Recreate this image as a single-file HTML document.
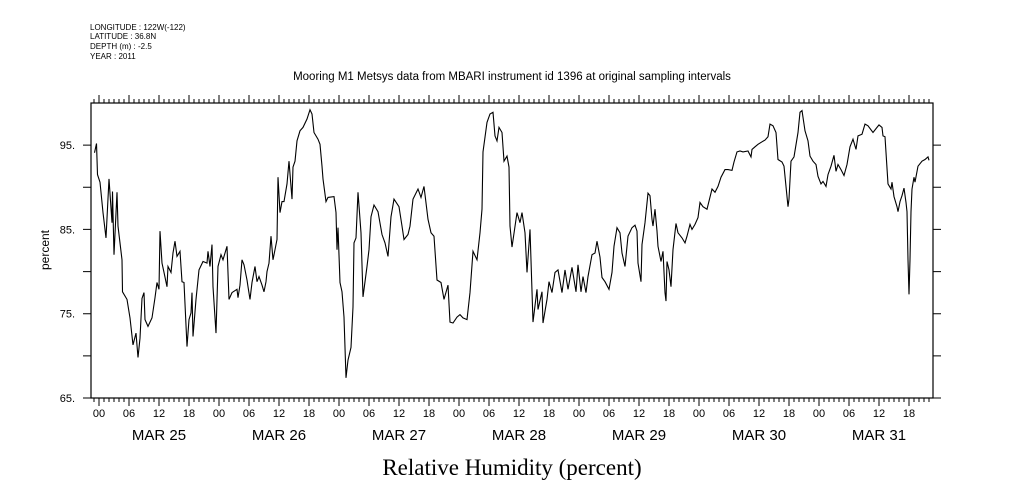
<!DOCTYPE html>
<html><head><meta charset="utf-8"><style>
body{margin:0;background:#fff;width:1009px;height:504px;overflow:hidden}
svg{display:block}
</style></head><body>
<svg id="chart" width="1009" height="504" xmlns="http://www.w3.org/2000/svg" font-family="Liberation Sans, sans-serif">
<rect width="1009" height="504" fill="#fff"/>
<g font-size="8" fill="#000">
<text x="90" y="30">LONGITUDE : 122W(-122)</text>
<text x="90" y="39">LATITUDE : 36.8N</text>
<text x="90" y="49">DEPTH (m) : -2.5</text>
<text x="90" y="59">YEAR : 2011</text>
</g>
<text x="512" y="80" text-anchor="middle" font-size="11.5">Mooring M1 Metsys data from MBARI instrument id 1396 at original sampling intervals</text>
<text x="512" y="475" text-anchor="middle" font-size="23" font-family="Liberation Serif, serif">Relative Humidity (percent)</text>
<text x="0" y="0" transform="translate(49,250) rotate(-90)" text-anchor="middle" font-size="12">percent</text>
<g id="axes"></g>
<g id="series"></g>
</svg>
<script>
const times=[-0.9,-0.5,-0.3,0.2,0.8,1.4,2,2.6,2.7,3,3.6,3.8,4.6,4.7,5.6,6.2,6.8,7.4,7.8,8.2,8.6,9,9.2,9.8,10.6,11.2,11.6,12,12.2,12.6,13,13.6,13.8,14.4,14.8,15.2,15.6,16.2,16.6,17,17.6,18,18.4,18.6,18.8,19.4,20,20.8,21.6,21.8,22.2,22.6,22.8,23.4,23.8,24.4,24.8,25.6,26,26.6,27.6,27.8,28.2,28.6,29,29.6,29.8,30.2,30.6,31.2,31.6,32,32.6,33,33.4,33.6,34,34.4,34.8,35.2,35.6,35.8,36.2,36.6,37,37.6,38,38.6,38.8,39.2,39.6,40.2,40.8,41.6,42.2,42.6,43,43.8,44.2,44.6,44.8,45.4,45.8,47,47.4,47.6,47.8,48.2,48.6,49,49.4,49.8,50.4,50.8,51,51.4,51.8,52.4,52.8,53.6,54,54.4,55,55.8,56.6,57.2,57.8,58.4,59,60,60.6,61,61.8,62.2,62.8,63.8,64.4,65,65.8,66.4,67,67.6,68.4,69,69.8,70.2,70.8,71.6,72.2,72.8,73.6,74.2,74.8,75.6,76.2,76.6,76.8,77.6,78.2,78.8,79.2,79.6,80,80.6,81,81.6,82,82.2,82.6,83.6,84.2,84.6,85.2,85.6,86.2,86.8,87.6,87.8,88.6,88.8,89.6,90,90.6,91.2,91.8,92.6,93.2,93.8,94.6,95.4,95.8,96.4,96.8,97.4,97.8,98.6,99.2,99.6,100.2,100.6,101.2,102,102.6,103,103.6,104.2,104.6,105.2,105.8,106.6,107.2,107.6,107.8,108.4,108.6,109.2,109.8,110.2,110.6,110.8,111.2,111.6,111.8,112.4,112.8,113.2,113.4,113.6,114,114.4,114.8,115.4,115.8,116.6,117.2,117.6,118.2,118.6,119.2,119.8,120.2,120.8,121.6,122.6,123.2,123.8,124.4,125.2,125.8,126.6,127,127.6,128.2,128.8,129.8,130.4,130.6,131.2,131.8,132.6,133.2,133.8,134.2,134.8,135.4,135.8,136.6,137,137.4,137.8,138,138.4,139,139.8,140.2,140.6,141.2,141.8,142.2,142.8,143.4,143.8,144.4,144.8,145.4,145.8,146.4,147,147.4,147.8,148.4,149,149.6,150.2,150.8,151.4,151.8,152.6,153.2,153.8,154.8,155.6,156,156.6,156.8,157.2,157.8,158.4,158.6,159,159.6,159.8,160.2,160.6,161,161.4,161.6,161.8,162,162.2,162.4,162.6,163,163.2,163.8,164.6,165.2,165.8,166];
const values=[94.1,95.2,91.5,90.6,87,84,91,85.8,89.5,82,89.4,85.4,81.4,77.6,76.7,74.5,71.3,72.7,69.8,72.1,76.8,77.5,74.3,73.5,74.5,76.9,78.7,77.9,84.8,81,79.9,78.2,80.6,79.9,82.2,83.6,81.8,82.4,78.8,78.7,71.1,74.3,75.1,77.5,72.3,76.7,80.2,81.2,81,82.4,80.6,83.2,78.2,72.7,80.6,82,81.4,83,76.7,77.5,77.9,76.9,78.4,81.4,80.8,79,78.2,76.7,78.7,80.6,78.8,79.4,78.4,77.6,78.8,80,81,84.2,81.4,82.6,83.8,91.2,87,88.3,88.3,90.4,93.1,88.6,92.4,93.1,95.5,96.7,97.1,98.1,99.2,98.7,96.5,95.7,95.1,92.5,91,88.3,88.8,88.9,87,82.6,85.2,78.7,77.6,74.6,67.4,69.5,71,75.8,83.4,84,89.4,84.6,77,80.6,82.6,86.5,87.9,87.1,84.4,83.4,81.8,86.5,88.6,87.7,85.4,83.8,84.4,85.4,88.6,89.8,88.8,90.1,86.2,84.6,84.2,79,78.7,76.7,78.4,74,73.9,74.6,74.9,74.5,74.3,77.5,82.4,81.4,84.6,87.4,94.2,97.7,98.7,98.9,96.1,95.5,97.1,96.5,93.1,93.7,92.4,85.4,82.9,87,85.8,87,84.6,79.9,85,74,77.9,75.5,77.6,73.9,76.7,78.8,77.5,79.9,80.2,77.5,80.2,77.9,80.5,77.6,80.8,77.6,79.4,77.5,79.4,82,82.2,83.6,81.7,79.3,78.8,77.9,79.9,83,85.2,84.6,82.2,80.6,84.2,85.2,85.5,84.8,81,78.8,83.2,85.8,89.3,89,86.2,85.4,87.4,84.8,83,81.2,82.4,77.5,76.5,81.2,80.2,78.2,82.6,85.7,84.6,84,83.4,84.2,85.6,85,85.6,86.4,88.2,87.7,87.4,89.8,89.4,90.1,91.2,92.1,92.1,92,93,94.2,94.3,94.2,94.3,93.6,94.5,94.8,95.1,95.4,95.6,96,97.5,97.3,96.5,93.3,93,92.5,90.1,87.7,88.6,93.1,93.6,96.5,98.9,99.1,96.7,95.5,93.7,93.1,92.7,91.3,90.4,90.7,90.1,91.5,92.5,93.8,91.9,92.7,92.1,91.4,92.7,94.8,95.7,94.5,96.1,96.3,97.5,97.3,96.5,97.1,97.4,97.1,96.1,96,90.4,89.8,90.6,88.9,87.7,87.1,88.3,89,89.9,88.2,87.1,81.4,77.3,81.4,87.1,89.8,91.2,90.6,92.5,93.1,93.3,93.6,93.2];
const yTicks=[65,75,85,95];
const yTickLabels=["65.","75.","85.","95."];
const yMinorTicks=[70,80,90];
const hourLabels=["00","06","12","18"];
const dayLabels=["MAR 25","MAR 26","MAR 27","MAR 28","MAR 29","MAR 30","MAR 31"];

const L=91,R=933,T=103,B=398;
const hMin=-1.6,hMax=166.8,vMin=65,vMax=100;
const xs=h=>L+(h-hMin)/(hMax-hMin)*(R-L);
const ys=v=>B-(v-vMin)/(vMax-vMin)*(B-T);
const NS="http://www.w3.org/2000/svg";
const axes=document.getElementById('axes'),ser=document.getElementById('series');
function mk(tag,attrs,parent){const e=document.createElementNS(NS,tag);for(const k in attrs)e.setAttribute(k,attrs[k]);parent.appendChild(e);return e;}
const frame=mk('rect',{x:L,y:T,width:R-L,height:B-T,fill:'none',stroke:'#000','stroke-width':1.2},axes);


let d='';
for(let h=Math.ceil(hMin);h<=hMax;h++){const x=xs(h).toFixed(1);const len=(h%6===0)?8:4;d+=`M${x},${T}v${-len}M${x},${B}v${len}`;}
yTicks.concat(yMinorTicks).forEach(v=>{const y=ys(v).toFixed(1);d+=`M${L},${y}h-8M${R},${y}h8`;});
const tk=mk('path',{d:d,stroke:'#000','stroke-width':1,fill:'none'},axes);


yTicks.forEach((v,i)=>{const t=mk('text',{x:75,y:ys(v)+4,'text-anchor':'end','font-size':11},axes);t.textContent=yTickLabels[i];

});
dayLabels.forEach((lab,di)=>{
 hourLabels.forEach((hl,hi)=>{const t=mk('text',{x:xs(di*24+hi*6),y:417,'text-anchor':'middle','font-size':11},axes);t.textContent=hl;
 
 });
 const t=mk('text',{x:xs(di*24+12),y:440,'text-anchor':'middle','font-size':15},axes);t.textContent=lab;
 
 
});
const pts=times.map((h,i)=>xs(h).toFixed(1)+','+ys(values[i]).toFixed(1)).join(' ');
const line=mk('polyline',{points:pts,fill:'none',stroke:'#000','stroke-width':1.1},ser);


</script>
</body></html>
